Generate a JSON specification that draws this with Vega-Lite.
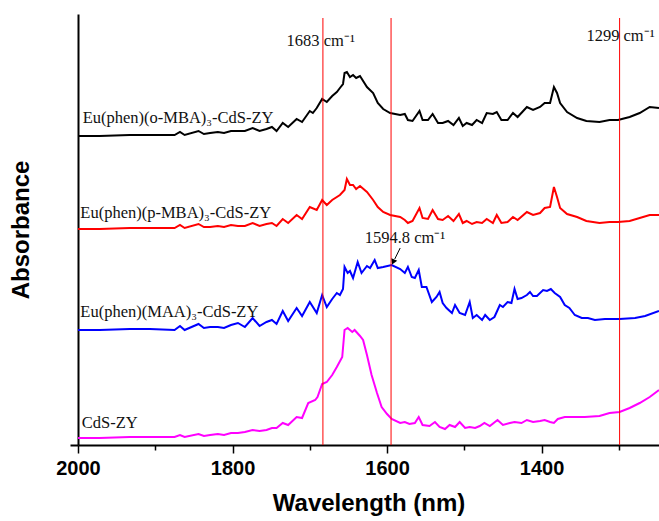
{
  "$schema": "https://vega.github.io/schema/vega-lite/v6.json",
  "width": 581,
  "height": 431,
  "autosize": {"type": "none"},
  "padding": {"left": 78, "top": 14, "right": 0, "bottom": 76},
  "background": "white",
  "config": {"view": {"stroke": null}},
  "datasets": {
    "spectra": [
      {"s":"o","wn":2000,"a":3.09},{"s":"o","wn":1972,"a":3.09},{"s":"o","wn":1933,"a":3.10},{"s":"o","wn":1907,"a":3.10},{"s":"o","wn":1875,"a":3.10},{"s":"o","wn":1868,"a":3.13},{"s":"o","wn":1862,"a":3.10},{"s":"o","wn":1844,"a":3.14},{"s":"o","wn":1837,"a":3.11},{"s":"o","wn":1829,"a":3.12},{"s":"o","wn":1819,"a":3.13},{"s":"o","wn":1811,"a":3.12},{"s":"o","wn":1802,"a":3.14},{"s":"o","wn":1793,"a":3.14},{"s":"o","wn":1784,"a":3.14},{"s":"o","wn":1774,"a":3.17},{"s":"o","wn":1765,"a":3.14},{"s":"o","wn":1756,"a":3.16},{"s":"o","wn":1749,"a":3.18},{"s":"o","wn":1743,"a":3.14},{"s":"o","wn":1735,"a":3.22},{"s":"o","wn":1728,"a":3.18},{"s":"o","wn":1717,"a":3.26},{"s":"o","wn":1710,"a":3.23},{"s":"o","wn":1700,"a":3.34},{"s":"o","wn":1696,"a":3.32},{"s":"o","wn":1691,"a":3.37},{"s":"o","wn":1684,"a":3.46},{"s":"o","wn":1678,"a":3.43},{"s":"o","wn":1671,"a":3.49},{"s":"o","wn":1665,"a":3.53},{"s":"o","wn":1661,"a":3.57},{"s":"o","wn":1657,"a":3.61},{"s":"o","wn":1655,"a":3.72},{"s":"o","wn":1652,"a":3.73},{"s":"o","wn":1648,"a":3.68},{"s":"o","wn":1644,"a":3.70},{"s":"o","wn":1640,"a":3.67},{"s":"o","wn":1635,"a":3.69},{"s":"o","wn":1626,"a":3.58},{"s":"o","wn":1618,"a":3.52},{"s":"o","wn":1612,"a":3.42},{"s":"o","wn":1605,"a":3.36},{"s":"o","wn":1596,"a":3.32},{"s":"o","wn":1583,"a":3.30},{"s":"o","wn":1577,"a":3.31},{"s":"o","wn":1573,"a":3.25},{"s":"o","wn":1567,"a":3.24},{"s":"o","wn":1558,"a":3.34},{"s":"o","wn":1554,"a":3.25},{"s":"o","wn":1547,"a":3.25},{"s":"o","wn":1541,"a":3.31},{"s":"o","wn":1534,"a":3.22},{"s":"o","wn":1528,"a":3.22},{"s":"o","wn":1521,"a":3.24},{"s":"o","wn":1514,"a":3.20},{"s":"o","wn":1507,"a":3.27},{"s":"o","wn":1502,"a":3.19},{"s":"o","wn":1497,"a":3.22},{"s":"o","wn":1490,"a":3.20},{"s":"o","wn":1484,"a":3.25},{"s":"o","wn":1477,"a":3.22},{"s":"o","wn":1471,"a":3.32},{"s":"o","wn":1463,"a":3.31},{"s":"o","wn":1458,"a":3.33},{"s":"o","wn":1452,"a":3.25},{"s":"o","wn":1444,"a":3.25},{"s":"o","wn":1437,"a":3.32},{"s":"o","wn":1431,"a":3.28},{"s":"o","wn":1419,"a":3.38},{"s":"o","wn":1411,"a":3.35},{"s":"o","wn":1402,"a":3.38},{"s":"o","wn":1396,"a":3.42},{"s":"o","wn":1389,"a":3.42},{"s":"o","wn":1384,"a":3.58},{"s":"o","wn":1380,"a":3.52},{"s":"o","wn":1376,"a":3.42},{"s":"o","wn":1367,"a":3.33},{"s":"o","wn":1354,"a":3.27},{"s":"o","wn":1342,"a":3.24},{"s":"o","wn":1325,"a":3.23},{"s":"o","wn":1312,"a":3.25},{"s":"o","wn":1301,"a":3.25},{"s":"o","wn":1286,"a":3.28},{"s":"o","wn":1273,"a":3.32},{"s":"o","wn":1260,"a":3.38},{"s":"o","wn":1248,"a":3.37},

      {"s":"p","wn":2000,"a":2.16},{"s":"p","wn":1972,"a":2.16},{"s":"p","wn":1933,"a":2.17},{"s":"p","wn":1907,"a":2.17},{"s":"p","wn":1875,"a":2.17},{"s":"p","wn":1868,"a":2.20},{"s":"p","wn":1862,"a":2.17},{"s":"p","wn":1844,"a":2.21},{"s":"p","wn":1837,"a":2.18},{"s":"p","wn":1829,"a":2.18},{"s":"p","wn":1819,"a":2.19},{"s":"p","wn":1811,"a":2.18},{"s":"p","wn":1802,"a":2.20},{"s":"p","wn":1793,"a":2.19},{"s":"p","wn":1784,"a":2.19},{"s":"p","wn":1774,"a":2.22},{"s":"p","wn":1765,"a":2.19},{"s":"p","wn":1756,"a":2.21},{"s":"p","wn":1749,"a":2.22},{"s":"p","wn":1743,"a":2.19},{"s":"p","wn":1735,"a":2.26},{"s":"p","wn":1728,"a":2.22},{"s":"p","wn":1717,"a":2.30},{"s":"p","wn":1710,"a":2.26},{"s":"p","wn":1700,"a":2.38},{"s":"p","wn":1691,"a":2.35},{"s":"p","wn":1684,"a":2.45},{"s":"p","wn":1678,"a":2.40},{"s":"p","wn":1671,"a":2.45},{"s":"p","wn":1661,"a":2.50},{"s":"p","wn":1655,"a":2.55},{"s":"p","wn":1652,"a":2.66},{"s":"p","wn":1648,"a":2.60},{"s":"p","wn":1644,"a":2.60},{"s":"p","wn":1640,"a":2.56},{"s":"p","wn":1635,"a":2.59},{"s":"p","wn":1626,"a":2.53},{"s":"p","wn":1618,"a":2.45},{"s":"p","wn":1612,"a":2.38},{"s":"p","wn":1605,"a":2.33},{"s":"p","wn":1596,"a":2.30},{"s":"p","wn":1583,"a":2.28},{"s":"p","wn":1577,"a":2.25},{"s":"p","wn":1573,"a":2.22},{"s":"p","wn":1567,"a":2.24},{"s":"p","wn":1558,"a":2.37},{"s":"p","wn":1554,"a":2.27},{"s":"p","wn":1547,"a":2.26},{"s":"p","wn":1541,"a":2.35},{"s":"p","wn":1534,"a":2.26},{"s":"p","wn":1528,"a":2.25},{"s":"p","wn":1521,"a":2.29},{"s":"p","wn":1514,"a":2.24},{"s":"p","wn":1507,"a":2.31},{"s":"p","wn":1502,"a":2.22},{"s":"p","wn":1497,"a":2.24},{"s":"p","wn":1490,"a":2.21},{"s":"p","wn":1484,"a":2.23},{"s":"p","wn":1477,"a":2.22},{"s":"p","wn":1471,"a":2.26},{"s":"p","wn":1463,"a":2.22},{"s":"p","wn":1458,"a":2.30},{"s":"p","wn":1452,"a":2.22},{"s":"p","wn":1444,"a":2.23},{"s":"p","wn":1437,"a":2.28},{"s":"p","wn":1431,"a":2.25},{"s":"p","wn":1419,"a":2.33},{"s":"p","wn":1411,"a":2.30},{"s":"p","wn":1402,"a":2.32},{"s":"p","wn":1396,"a":2.37},{"s":"p","wn":1389,"a":2.38},{"s":"p","wn":1384,"a":2.58},{"s":"p","wn":1380,"a":2.48},{"s":"p","wn":1376,"a":2.37},{"s":"p","wn":1367,"a":2.31},{"s":"p","wn":1354,"a":2.28},{"s":"p","wn":1342,"a":2.24},{"s":"p","wn":1325,"a":2.22},{"s":"p","wn":1312,"a":2.23},{"s":"p","wn":1301,"a":2.23},{"s":"p","wn":1286,"a":2.24},{"s":"p","wn":1273,"a":2.27},{"s":"p","wn":1260,"a":2.30},{"s":"p","wn":1248,"a":2.30},

      {"s":"m","wn":2000,"a":1.15},{"s":"m","wn":1972,"a":1.15},{"s":"m","wn":1933,"a":1.16},{"s":"m","wn":1907,"a":1.16},{"s":"m","wn":1875,"a":1.15},{"s":"m","wn":1868,"a":1.19},{"s":"m","wn":1862,"a":1.15},{"s":"m","wn":1844,"a":1.21},{"s":"m","wn":1837,"a":1.17},{"s":"m","wn":1829,"a":1.18},{"s":"m","wn":1819,"a":1.18},{"s":"m","wn":1811,"a":1.17},{"s":"m","wn":1802,"a":1.20},{"s":"m","wn":1793,"a":1.22},{"s":"m","wn":1784,"a":1.18},{"s":"m","wn":1774,"a":1.27},{"s":"m","wn":1765,"a":1.19},{"s":"m","wn":1756,"a":1.23},{"s":"m","wn":1749,"a":1.25},{"s":"m","wn":1743,"a":1.21},{"s":"m","wn":1735,"a":1.34},{"s":"m","wn":1728,"a":1.24},{"s":"m","wn":1717,"a":1.37},{"s":"m","wn":1710,"a":1.29},{"s":"m","wn":1700,"a":1.43},{"s":"m","wn":1691,"a":1.32},{"s":"m","wn":1684,"a":1.50},{"s":"m","wn":1678,"a":1.38},{"s":"m","wn":1671,"a":1.46},{"s":"m","wn":1665,"a":1.52},{"s":"m","wn":1661,"a":1.50},{"s":"m","wn":1657,"a":1.56},{"s":"m","wn":1655,"a":1.78},{"s":"m","wn":1651,"a":1.72},{"s":"m","wn":1648,"a":1.74},{"s":"m","wn":1644,"a":1.67},{"s":"m","wn":1638,"a":1.83},{"s":"m","wn":1633,"a":1.72},{"s":"m","wn":1626,"a":1.79},{"s":"m","wn":1622,"a":1.77},{"s":"m","wn":1616,"a":1.85},{"s":"m","wn":1612,"a":1.77},{"s":"m","wn":1605,"a":1.78},{"s":"m","wn":1594,"a":1.80},{"s":"m","wn":1583,"a":1.76},{"s":"m","wn":1577,"a":1.72},{"s":"m","wn":1573,"a":1.78},{"s":"m","wn":1568,"a":1.68},{"s":"m","wn":1564,"a":1.67},{"s":"m","wn":1559,"a":1.75},{"s":"m","wn":1555,"a":1.58},{"s":"m","wn":1549,"a":1.58},{"s":"m","wn":1542,"a":1.43},{"s":"m","wn":1536,"a":1.48},{"s":"m","wn":1532,"a":1.53},{"s":"m","wn":1528,"a":1.42},{"s":"m","wn":1523,"a":1.37},{"s":"m","wn":1516,"a":1.32},{"s":"m","wn":1512,"a":1.40},{"s":"m","wn":1506,"a":1.32},{"s":"m","wn":1499,"a":1.30},{"s":"m","wn":1493,"a":1.43},{"s":"m","wn":1489,"a":1.27},{"s":"m","wn":1484,"a":1.30},{"s":"m","wn":1477,"a":1.25},{"s":"m","wn":1473,"a":1.30},{"s":"m","wn":1467,"a":1.25},{"s":"m","wn":1461,"a":1.28},{"s":"m","wn":1454,"a":1.40},{"s":"m","wn":1450,"a":1.38},{"s":"m","wn":1444,"a":1.43},{"s":"m","wn":1439,"a":1.42},{"s":"m","wn":1435,"a":1.56},{"s":"m","wn":1431,"a":1.46},{"s":"m","wn":1426,"a":1.47},{"s":"m","wn":1419,"a":1.50},{"s":"m","wn":1415,"a":1.53},{"s":"m","wn":1411,"a":1.49},{"s":"m","wn":1406,"a":1.49},{"s":"m","wn":1398,"a":1.55},{"s":"m","wn":1393,"a":1.54},{"s":"m","wn":1388,"a":1.56},{"s":"m","wn":1383,"a":1.52},{"s":"m","wn":1376,"a":1.48},{"s":"m","wn":1370,"a":1.40},{"s":"m","wn":1364,"a":1.37},{"s":"m","wn":1357,"a":1.30},{"s":"m","wn":1348,"a":1.27},{"s":"m","wn":1340,"a":1.27},{"s":"m","wn":1331,"a":1.25},{"s":"m","wn":1318,"a":1.26},{"s":"m","wn":1299,"a":1.26},{"s":"m","wn":1279,"a":1.27},{"s":"m","wn":1266,"a":1.29},{"s":"m","wn":1248,"a":1.34},

      {"s":"c","wn":2000,"a":0.07},{"s":"c","wn":1972,"a":0.07},{"s":"c","wn":1933,"a":0.08},{"s":"c","wn":1907,"a":0.08},{"s":"c","wn":1875,"a":0.08},{"s":"c","wn":1868,"a":0.10},{"s":"c","wn":1862,"a":0.08},{"s":"c","wn":1844,"a":0.11},{"s":"c","wn":1837,"a":0.09},{"s":"c","wn":1829,"a":0.10},{"s":"c","wn":1819,"a":0.11},{"s":"c","wn":1811,"a":0.10},{"s":"c","wn":1802,"a":0.12},{"s":"c","wn":1793,"a":0.12},{"s":"c","wn":1784,"a":0.13},{"s":"c","wn":1774,"a":0.15},{"s":"c","wn":1765,"a":0.14},{"s":"c","wn":1756,"a":0.15},{"s":"c","wn":1749,"a":0.17},{"s":"c","wn":1743,"a":0.17},{"s":"c","wn":1735,"a":0.22},{"s":"c","wn":1728,"a":0.20},{"s":"c","wn":1717,"a":0.28},{"s":"c","wn":1710,"a":0.27},{"s":"c","wn":1702,"a":0.42},{"s":"c","wn":1693,"a":0.45},{"s":"c","wn":1690,"a":0.48},{"s":"c","wn":1684,"a":0.61},{"s":"c","wn":1678,"a":0.63},{"s":"c","wn":1671,"a":0.70},{"s":"c","wn":1665,"a":0.78},{"s":"c","wn":1658,"a":0.88},{"s":"c","wn":1655,"a":1.15},{"s":"c","wn":1651,"a":1.17},{"s":"c","wn":1645,"a":1.13},{"s":"c","wn":1642,"a":1.15},{"s":"c","wn":1635,"a":1.09},{"s":"c","wn":1631,"a":1.05},{"s":"c","wn":1626,"a":0.90},{"s":"c","wn":1620,"a":0.70},{"s":"c","wn":1613,"a":0.52},{"s":"c","wn":1607,"a":0.38},{"s":"c","wn":1600,"a":0.31},{"s":"c","wn":1594,"a":0.26},{"s":"c","wn":1583,"a":0.22},{"s":"c","wn":1577,"a":0.23},{"s":"c","wn":1571,"a":0.21},{"s":"c","wn":1564,"a":0.22},{"s":"c","wn":1559,"a":0.28},{"s":"c","wn":1554,"a":0.20},{"s":"c","wn":1545,"a":0.19},{"s":"c","wn":1538,"a":0.23},{"s":"c","wn":1532,"a":0.18},{"s":"c","wn":1525,"a":0.16},{"s":"c","wn":1519,"a":0.20},{"s":"c","wn":1512,"a":0.18},{"s":"c","wn":1506,"a":0.23},{"s":"c","wn":1499,"a":0.17},{"s":"c","wn":1493,"a":0.18},{"s":"c","wn":1486,"a":0.17},{"s":"c","wn":1480,"a":0.19},{"s":"c","wn":1474,"a":0.22},{"s":"c","wn":1467,"a":0.19},{"s":"c","wn":1457,"a":0.25},{"s":"c","wn":1450,"a":0.20},{"s":"c","wn":1441,"a":0.22},{"s":"c","wn":1435,"a":0.23},{"s":"c","wn":1426,"a":0.22},{"s":"c","wn":1419,"a":0.25},{"s":"c","wn":1411,"a":0.23},{"s":"c","wn":1402,"a":0.24},{"s":"c","wn":1396,"a":0.25},{"s":"c","wn":1389,"a":0.23},{"s":"c","wn":1384,"a":0.22},{"s":"c","wn":1379,"a":0.26},{"s":"c","wn":1370,"a":0.28},{"s":"c","wn":1357,"a":0.28},{"s":"c","wn":1344,"a":0.28},{"s":"c","wn":1325,"a":0.29},{"s":"c","wn":1312,"a":0.32},{"s":"c","wn":1299,"a":0.33},{"s":"c","wn":1286,"a":0.37},{"s":"c","wn":1273,"a":0.42},{"s":"c","wn":1260,"a":0.48},{"s":"c","wn":1248,"a":0.55}
    ],
    "vlines": [{"wn": 1683}, {"wn": 1594.8}, {"wn": 1299}],
    "labels": [
      {"wn": 1994, "a": 3.27, "t": "Eu(phen)(o-MBA)₃-CdS-ZY"},
      {"wn": 1997, "a": 2.32, "t": "Eu(phen)(p-MBA)₃-CdS-ZY"},
      {"wn": 1997, "a": 1.33, "t": "Eu(phen)(MAA)₃-CdS-ZY"},
      {"wn": 1995, "a": 0.22, "t": "CdS-ZY"},
      {"wn": 1730, "a": 4.04, "t": "1683 cm⁻¹"},
      {"wn": 1342, "a": 4.09, "t": "1299 cm⁻¹"},
      {"wn": 1629, "a": 2.07, "t": "1594.8 cm⁻¹"}
    ],
    "arrow": [{"wn": 1583, "a": 1.97, "wn2": 1590, "a2": 1.86}],
    "arrowhead": [{"wn": 1592, "a": 1.83}]
  },
  "layer": [
    {
      "data": {"name": "spectra"},
      "mark": {"type": "line", "strokeWidth": 2, "clip": true},
      "encoding": {
        "x": {
          "field": "wn", "type": "quantitative",
          "scale": {"domain": [1248, 2000], "reverse": true, "nice": false, "zero": false},
          "axis": {
            "title": "Wavelength (nm)",
            "format": "d",
            "values": [2000, 1900, 1800, 1700, 1600, 1500, 1400, 1300],
            "labelExpr": "datum.value % 200 == 0 ? datum.label : ''",
            "tickSize": {"condition": {"test": "datum.value % 200 == 0", "value": 8}, "value": 5},
            "tickWidth": 1.5, "tickColor": "black",
            "domainWidth": 2, "domainColor": "black",
            "grid": false, "labelFlush": false, "labelOverlap": false,
            "labelFont": "Liberation Sans", "labelFontWeight": "bold", "labelFontSize": 20, "labelColor": "black",
            "labelPadding": 5,
            "titleFont": "Liberation Sans", "titleFontWeight": "bold", "titleFontSize": 24, "titleColor": "black",
            "titlePadding": 13
          }
        },
        "y": {
          "field": "a", "type": "quantitative",
          "scale": {"domain": [0, 4.31], "nice": false, "zero": false},
          "axis": {
            "title": "Absorbance",
            "values": [0], "labels": false, "tickSize": 8, "tickWidth": 2, "tickColor": "black",
            "domainWidth": 2, "domainColor": "black", "grid": false,
            "titleFont": "Liberation Sans", "titleFontWeight": "bold", "titleFontSize": 24, "titleColor": "black",
            "titlePadding": 36
          }
        },
        "color": {
          "field": "s", "type": "nominal",
          "scale": {"domain": ["o", "p", "m", "c"], "range": ["#000000", "#ff0000", "#0000ff", "#ff00ff"]},
          "legend": null
        }
      }
    },
    {
      "data": {"name": "vlines"},
      "mark": {"type": "rule", "color": "#ff0000", "strokeWidth": 1},
      "encoding": {
        "x": {"field": "wn", "type": "quantitative"},
        "y": {"datum": 4.27},
        "y2": {"datum": 0}
      }
    },
    {
      "data": {"name": "labels"},
      "mark": {"type": "text", "font": "Liberation Serif", "fontSize": 16.5, "align": "left", "baseline": "middle", "color": "#111111"},
      "encoding": {
        "x": {"field": "wn", "type": "quantitative"},
        "y": {"field": "a", "type": "quantitative"},
        "text": {"field": "t"}
      }
    },
    {
      "data": {"name": "arrow"},
      "mark": {"type": "rule", "color": "black", "strokeWidth": 1},
      "encoding": {
        "x": {"field": "wn", "type": "quantitative"},
        "y": {"field": "a", "type": "quantitative"},
        "x2": {"field": "wn2"},
        "y2": {"field": "a2"}
      }
    },
    {
      "data": {"name": "arrowhead"},
      "mark": {"type": "point", "shape": "triangle-down", "angle": 24, "size": 40, "filled": true, "color": "black", "opacity": 1},
      "encoding": {
        "x": {"field": "wn", "type": "quantitative"},
        "y": {"field": "a", "type": "quantitative"}
      }
    }
  ]
}
